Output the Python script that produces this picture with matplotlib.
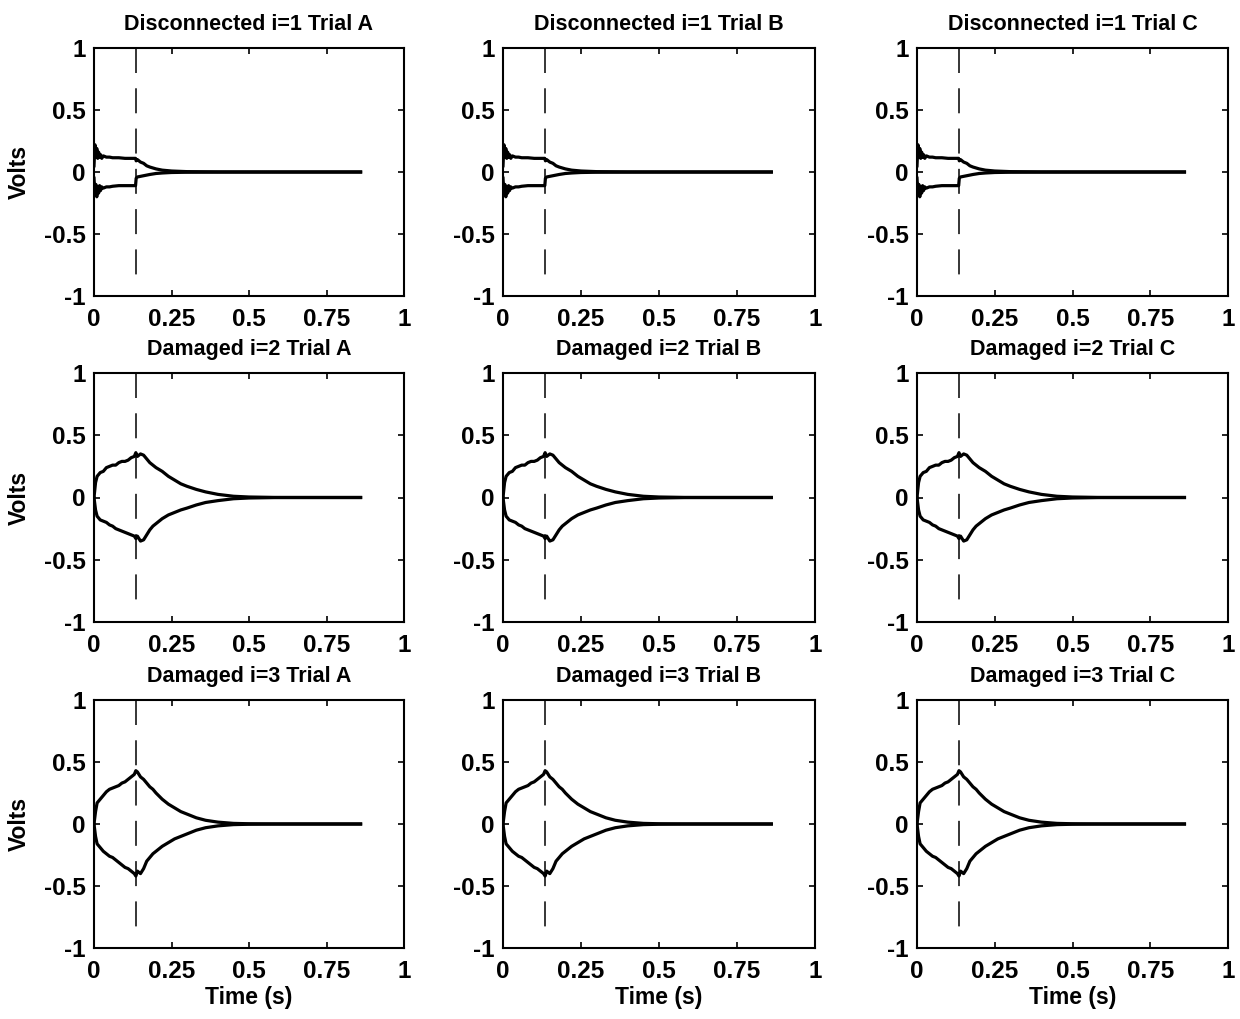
import matplotlib
matplotlib.use("Agg")
import matplotlib.pyplot as plt

plt.rcParams['font.family'] = ['Liberation Sans', 'DejaVu Sans']
plt.rcParams['font.weight'] = 'bold'
plt.rcParams['lines.scale_dashes'] = False

# ---- data ----
row_names = ["Disconnected i=1", "Damaged i=2", "Damaged i=3"]
trials = ["A", "B", "C"]
event_time = 0.135

x_ticks = [0, 0.25, 0.5, 0.75, 1]
x_tick_labels = ["0", "0.25", "0.5", "0.75", "1"]
y_ticks = [-1, -0.5, 0, 0.5, 1]
y_tick_labels = ["-1", "-0.5", "0", "0.5", "1"]

t1 = [0, 0.003, 0.006, 0.009, 0.012, 0.015, 0.018, 0.021, 0.025, 0.03, 0.04, 0.05,
      0.06, 0.08, 0.10, 0.12, 0.134, 0.136, 0.14, 0.15, 0.16, 0.17, 0.18, 0.20,
      0.22, 0.25, 0.30, 0.40, 0.60, 0.86]
up1 = [0.05, 0.22, 0.12, 0.19, 0.11, 0.16, 0.12, 0.14, 0.11, 0.13, 0.12, 0.12,
       0.115, 0.115, 0.11, 0.11, 0.11, 0.09, 0.10, 0.08, 0.07, 0.05, 0.04, 0.025,
       0.015, 0.008, 0.003, 0.001, 0, 0]
lo1 = [-0.05, -0.18, -0.10, -0.20, -0.12, -0.17, -0.11, -0.15, -0.12, -0.13, -0.12, -0.12,
       -0.115, -0.11, -0.11, -0.11, -0.11, -0.05, -0.04, -0.035, -0.03, -0.025, -0.02, -0.012,
       -0.008, -0.004, -0.002, -0.001, 0, 0]

t23 = [0, 0.005, 0.01, 0.02, 0.03, 0.04, 0.05, 0.06, 0.07, 0.08, 0.09, 0.10, 0.11,
       0.12, 0.13, 0.135, 0.14, 0.15, 0.16, 0.17, 0.18, 0.19, 0.20, 0.22, 0.24, 0.26,
       0.28, 0.30, 0.33, 0.36, 0.40, 0.45, 0.50, 0.60, 0.70, 0.80, 0.86]
up2 = [0, 0.12, 0.17, 0.20, 0.21, 0.24, 0.25, 0.26, 0.26, 0.28, 0.29, 0.29, 0.30,
       0.32, 0.33, 0.36, 0.33, 0.35, 0.34, 0.31, 0.28, 0.26, 0.24, 0.21, 0.17, 0.14,
       0.11, 0.09, 0.065, 0.045, 0.025, 0.01, 0.004, 0, 0, 0, 0]
lo2 = [0, -0.10, -0.15, -0.18, -0.19, -0.20, -0.22, -0.23, -0.25, -0.26, -0.27, -0.28, -0.29,
       -0.30, -0.31, -0.33, -0.31, -0.35, -0.34, -0.30, -0.26, -0.23, -0.21, -0.17, -0.14, -0.12,
       -0.10, -0.085, -0.06, -0.04, -0.025, -0.01, -0.004, 0, 0, 0, 0]
up3 = [0, 0.10, 0.17, 0.20, 0.23, 0.26, 0.28, 0.29, 0.30, 0.31, 0.33, 0.34, 0.36,
       0.38, 0.40, 0.43, 0.42, 0.38, 0.36, 0.33, 0.30, 0.28, 0.25, 0.20, 0.16, 0.13,
       0.10, 0.08, 0.05, 0.03, 0.015, 0.005, 0.002, 0, 0, 0, 0]
lo3 = [0, -0.10, -0.16, -0.19, -0.22, -0.24, -0.26, -0.27, -0.29, -0.31, -0.33, -0.35, -0.36,
       -0.38, -0.40, -0.42, -0.38, -0.40, -0.36, -0.30, -0.27, -0.24, -0.22, -0.18, -0.15, -0.12,
       -0.10, -0.08, -0.05, -0.03, -0.015, -0.005, -0.002, 0, 0, 0, 0]

row_data = [(t1, up1, lo1), (t23, up2, lo2), (t23, up3, lo3)]

# ---- layout ----
W, H = 1240, 1019
fig = plt.figure(figsize=(W / 100, H / 100), dpi=100)
col_px = [(94, 404), (503, 815), (917, 1228)]
row_px = [(48, 296), (373, 622), (700, 948)]

fs = 17.5
fs_title = 15.5
fs_label = 16.5
for r in range(3):
    t, up, lo = row_data[r]
    for c in range(3):
        l, rr = col_px[c]
        top, bot = row_px[r]
        ax = fig.add_axes([l / W, 1 - bot / H, (rr - l) / W, (bot - top) / H])
        ax.plot(t, up, color='black', lw=2.3)
        ax.plot(t, lo, color='black', lw=2.3)
        ax.plot([event_time, event_time], [1, -0.9], color='black', lw=1.1,
                dashes=(18, 11))
        ax.set_xlim(0, 1)
        ax.set_ylim(-1, 1)
        ax.set_xticks(x_ticks)
        ax.set_xticklabels(x_tick_labels)
        ax.set_yticks(y_ticks)
        ax.set_yticklabels(y_tick_labels)
        ax.tick_params(direction='in', length=4, width=1.2, top=True, right=True,
                       labelsize=fs)
        ax.tick_params(axis='x', pad=9)
        ax.tick_params(axis='y', pad=6)
        for s in ax.spines.values():
            s.set_linewidth(1.5)
        ax.set_title(f"{row_names[r]} Trial {trials[c]}", fontsize=fs_title,
                     fontweight='bold', pad=13)
        if c == 0:
            ax.set_ylabel("Volts", fontsize=fs_label, fontweight='bold', labelpad=9)
        if r == 2:
            ax.set_xlabel("Time (s)", fontsize=fs_label, fontweight='bold', labelpad=2)

fig.savefig("out.png", dpi=100)
